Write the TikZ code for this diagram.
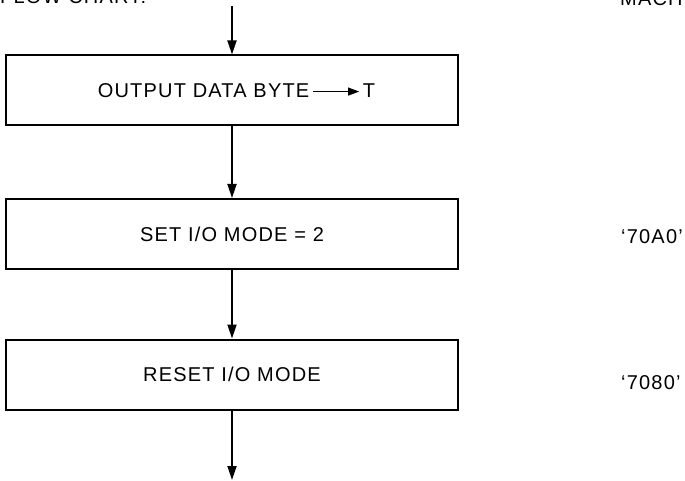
\documentclass[tikz,border=0pt]{standalone}
\usepackage{fontspec}
\setmainfont{Liberation Sans}[LetterSpace=6]
\usetikzlibrary{arrows.meta}

\begin{document}
\begin{tikzpicture}[x=1pt,y=-1pt,
  font=\fontsize{20}{23}\selectfont,
  box/.style={draw,line width=2pt,minimum width=452pt,minimum height=70pt,inner sep=0pt},
  flow/.style={line width=1.8pt,-{Triangle[length=14pt,width=9pt]}},
  code/.style={anchor=west,inner sep=0pt}]
\useasboundingbox (0,0) rectangle (685,481);
% headings, cut by the page edge
\node[anchor=base west,inner sep=0pt] (title) at (0,4) {FLOW CHART:};
\node[anchor=base west,inner sep=0pt] (mach) at (620,6) {MACH};
% boxes
\node[box] (out) at (232,90.5) {\hspace{9pt}OUTPUT DATA BYTE\,\tikz[baseline=-0.55ex]\draw[line width=1pt,-{Triangle[length=11pt,width=8pt]}] (0,0) -- (46pt,0);\,T};
\node[box] (set) at (232,234) {SET I/O MODE = 2};
\node[box] (reset) at (232,374.5) {RESET I/O MODE};
% codes
\node[code] (c1) at (621,237) {‘70A0’};
\node[code] (c2) at (621,383) {‘7080’};
% connectors
\coordinate (start) at (232,6);
\coordinate (stop) at (232,480);
\draw[flow] (start) -- (out.north);
\draw[flow] (out.south) -- (set.north);
\draw[flow] (set.south) -- (reset.north);
\draw[flow] (reset.south) -- (stop);
\end{tikzpicture}
\end{document}
